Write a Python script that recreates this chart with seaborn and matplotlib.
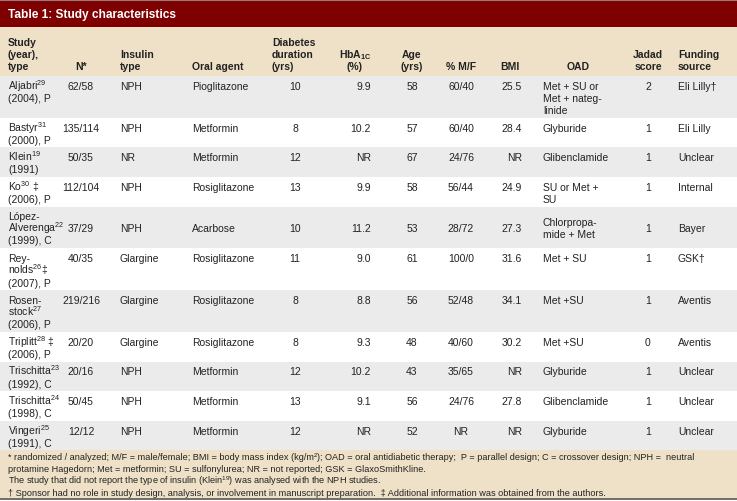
"""Table 1 of the insulin + oral agent review, drawn as a figure."""
import matplotlib
matplotlib.use("Agg")
import matplotlib.pyplot as plt
import seaborn as sns
from matplotlib.patches import Rectangle

TITLE = "Table 1: Study characteristics"

headers = ["Study\n(year),\ntype", "N*", "Insulin\ntype", "Oral agent",
           "Diabetes\nduration\n(yrs)", r"$\mathbf{HbA_{1C}}$" + "\n(%)",
           "Age\n(yrs)", "% M/F", "BMI", "OAD", "Jadad\nscore",
           "Funding\nsource"]

studies = [r"Aljabri$^{29}$" + "\n(2004), P",
           r"Bastyr$^{31}$" + "\n(2000), P",
           r"Klein$^{19}$" + "\n(1991)",
           r"Ko$^{30}$ ‡" + "\n(2006), P",
           "López-\n" + r"Alverenga$^{22}$" + "\n(1999), C",
           "Rey-\n" + r"nolds$^{26}$‡" + "\n(2007), P",
           "Rosen-\n" + r"stock$^{27}$" + "\n(2006), P",
           r"Triplitt$^{28}$ ‡" + "\n(2006), P",
           r"Trischitta$^{23}$" + "\n(1992), C",
           r"Trischitta$^{24}$" + "\n(1998), C",
           r"Vingeri$^{25}$" + "\n(1991), C"]
n_analyzed = ["62/58", "135/114", "50/35", "112/104", "37/29", "40/35",
              "219/216", "20/20", "20/16", "50/45", "12/12"]
insulin = ["NPH", "NPH", "NR", "NPH", "NPH", "Glargine", "Glargine",
           "Glargine", "NPH", "NPH", "NPH"]
oral_agent = ["Pioglitazone", "Metformin", "Metformin", "Rosiglitazone",
              "Acarbose", "Rosiglitazone", "Rosiglitazone", "Rosiglitazone",
              "Metformin", "Metformin", "Metformin"]
duration = ["10", "8", "12", "13", "10", "11", "8", "8", "12", "13", "12"]
hba1c = ["9.9", "10.2", "NR", "9.9", "11.2", "9.0", "8.8", "9.3", "10.2",
         "9.1", "NR"]
age = ["58", "57", "67", "58", "53", "61", "56", "48", "43", "56", "52"]
male_female = ["60/40", "60/40", "24/76", "56/44", "28/72", "100/0", "52/48",
               "40/60", "35/65", "24/76", "NR"]
bmi = ["25.5", "28.4", "NR", "24.9", "27.3", "31.6", "34.1", "30.2", "NR",
       "27.8", "NR"]
oad = ["Met + SU or\nMet + nateg-\nlinide", "Glyburide", "Glibenclamide",
       "SU or Met +\nSU", "Chlorpropa-\nmide + Met", "Met + SU", "Met +SU",
       "Met +SU", "Glyburide", "Glibenclamide", "Glyburide"]
jadad = ["2", "1", "1", "1", "1", "1", "1", "0", "1", "1", "1"]
funding = ["Eli Lilly†", "Eli Lilly", "Unclear", "Internal", "Bayer", "GSK†",
           "Aventis", "Aventis", "Unclear", "Unclear", "Unclear"]

footnotes = [
    "* randomized / analyzed; M/F = male/female; BMI = body mass index "
    "(kg/m²); OAD = oral antidiabetic therapy;  P = parallel design; "
    "C = crossover design; NPH =  neutral",
    "protamine Hagedorn; Met = metformin; SU = sulfonylurea; "
    "NR = not reported; GSK = GlaxoSmithKline.",
    "The study that did not report the type of insulin (Klein$^{19}$) "
    "was analysed with the NPH studies.",
    "† Sponsor had no role in study design, analysis, or involvement in "
    "manuscript preparation.  ‡ Additional information was obtained from "
    "the authors.",
]

# layout (pixels): (header x, header ha, cell x, cell ha) for each column
COLUMNS = [(8, "left", 8, "left"), (81, "center", 81, "center"),
           (120, "left", 120, "left"), (192, "left", 192, "left"),
           (272, "left", 295, "center"), (355, "center", 371, "right"),
           (412, "center", 412, "center"), (461, "center", 461, "center"),
           (510, "center", 522, "right"), (578, "center", 543, "left"),
           (648, "center", 648, "center"), (678, "left", 678, "left")]
MIDDLE_ROWS = {4}
W, H = 737, 502
TITLE_H, HEADER_BOTTOM, FOOTER_TOP, FOOTER_BOTTOM = 28, 77, 451, 499
LINE_PX, PAD_PX, BASE_PX = 12.2, 5.2, 12.8
FOOT_LINE_PX = 11.7

DARK_RED = "#7e0000"
BEIGE = "#efe1c8"
GREY = "#ebebeb"
TEXT = "#222222"


def put_lines(ax, x, first_baseline, label, pitch, **kw):
    # one Text per line so superscripts do not stretch the line spacing
    for k, line in enumerate(label.split("\n")):
        ax.text(x, first_baseline + k * pitch, line, va="baseline",
                color=TEXT, **kw)


def main():
    sns.set_theme(style="white")
    plt.rcParams["font.family"] = ["Liberation Sans", "DejaVu Sans"]
    plt.rcParams["mathtext.fontset"] = "custom"
    plt.rcParams["mathtext.rm"] = "Liberation Sans"
    plt.rcParams["mathtext.it"] = "Liberation Sans:italic"
    plt.rcParams["mathtext.bf"] = "Liberation Sans:bold"

    fig = plt.figure(figsize=(W / 100, H / 100), dpi=100)
    ax = fig.add_axes([0, 0, 1, 1])
    ax.set_xlim(0, W)
    ax.set_ylim(H, 0)
    ax.axis("off")

    # title bar and header
    ax.add_patch(Rectangle((0, 0), W, TITLE_H, color=DARK_RED, lw=0))
    ax.plot([0, W], [0.8, 0.8], color="#9a7b7b", lw=1.5)
    ax.text(8, TITLE_H / 2 + 1, TITLE, color="white", fontsize=8.6,
            fontweight="bold", va="center")
    ax.add_patch(Rectangle((0, TITLE_H), W, HEADER_BOTTOM - TITLE_H,
                           color=BEIGE, lw=0))
    for (hx, hha, _, _), label in zip(COLUMNS, headers):
        n = label.count("\n")
        put_lines(ax, hx, HEADER_BOTTOM - 6.5 - n * LINE_PX, label, LINE_PX,
                  ha=hha, fontsize=7.5, fontweight="bold")

    rows = list(zip(studies, n_analyzed, insulin, oral_agent, duration, hba1c,
                    age, male_female, bmi, oad, jadad, funding))
    top = HEADER_BOTTOM
    for i, row in enumerate(rows):
        n_lines = max(cell.count("\n") + 1 for cell in row)
        height = n_lines * LINE_PX + PAD_PX
        if i % 2 == 0:
            ax.add_patch(Rectangle((0, top), W, height, color=GREY, lw=0))
        for (_, _, cx, cha), cell in zip(COLUMNS, row):
            if i in MIDDLE_ROWS:
                n = cell.count("\n") + 1
                base = top + height / 2 - (n - 1) * LINE_PX / 2 + 3.8
            else:
                base = top + BASE_PX
            put_lines(ax, cx, base, cell, LINE_PX, ha=cha, fontsize=7.5)
        top += height

    ax.add_patch(Rectangle((0, FOOTER_TOP), W, FOOTER_BOTTOM - FOOTER_TOP,
                           color=BEIGE, lw=0))
    put_lines(ax, 8, FOOTER_TOP + 9.5, "\n".join(footnotes), FOOT_LINE_PX,
              ha="left", fontsize=6.6)
    ax.plot([0, W], [FOOTER_BOTTOM + 0.5, FOOTER_BOTTOM + 0.5],
            color="#555555", lw=1.2)

    fig.savefig("out.png", dpi=100)
    plt.close(fig)


if __name__ == "__main__":
    main()
